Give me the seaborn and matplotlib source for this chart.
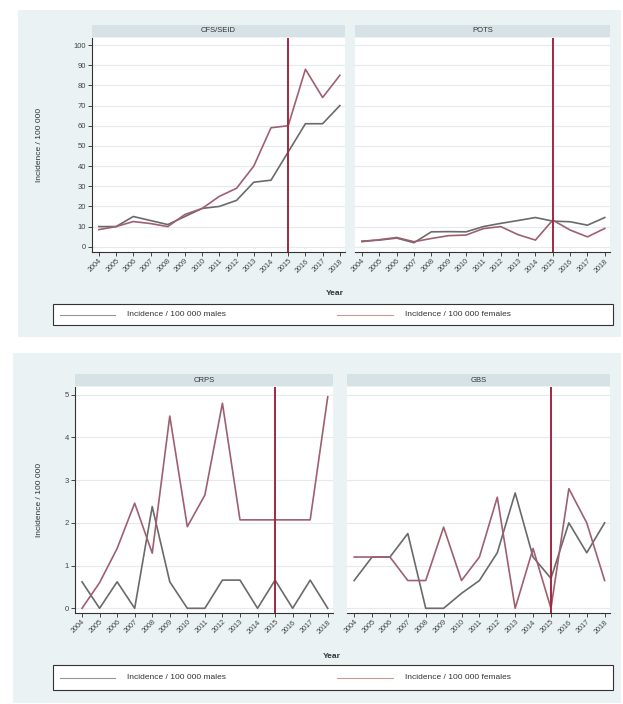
import numpy as np
import pandas as pd
import seaborn as sns
import matplotlib.pyplot as plt
from matplotlib.patches import Rectangle
from matplotlib.lines import Line2D

# data
years = list(range(2004, 2019))
cutoff_year = 2015

cfs_males = [10, 10, 15, 13, 11, 15, 19, 20, 23, 32, 33, 47, 61, 61, 70]
cfs_females = [8.5, 10, 12.5, 11.5, 10, 16, 19, 25, 29, 40, 59, 60, 88, 74, 85]
pots_males = [2.8, 3.3, 4.3, 2.0, 7.4, 7.5, 7.4, 10, 11.6, 13, 14.5, 12.7, 12.4, 10.7, 14.5]
pots_females = [2.5, 3.5, 4.6, 2.5, 4.1, 5.5, 5.8, 9, 10, 6, 3.3, 13.2, 8.3, 4.9, 9.1]
crps_males = [0.62, 0.0, 0.62, 0.0, 2.38, 0.62, 0.0, 0.0, 0.66, 0.66, 0.0, 0.66, 0.0, 0.66, 0.0]
crps_females = [0.0, 0.6, 1.4, 2.46, 1.29, 4.5, 1.91, 2.65, 4.8, 2.07, 2.07, 2.07, 2.07, 2.07, 4.95]
gbs_males = [0.65, 1.2, 1.2, 1.75, 0.0, 0.0, 0.35, 0.65, 1.3, 2.7, 1.2, 0.7, 2.0, 1.3, 2.0]
gbs_females = [1.2, 1.2, 1.2, 0.65, 0.65, 1.9, 0.65, 1.2, 2.6, 0.0, 1.4, 0.0, 2.8, 2.0, 0.65]

sex_labels = ["Incidence / 100 000 males", "Incidence / 100 000 females"]
palette = {sex_labels[0]: "#6a6a6a", sex_labels[1]: "#9e6070"}

def long_df(males, females):
    return pd.DataFrame({
        "Year": years * 2,
        "inc": males + females,
        "sex": [sex_labels[0]] * len(years) + [sex_labels[1]] * len(years),
    })

W, H = 623, 704
fig = plt.figure(figsize=(W / 100, H / 100), dpi=100)
fig.patch.set_facecolor("white")
plt.rcParams["font.family"] = ["Liberation Sans", "DejaVu Sans"]

BG = "#eaf2f3"
STRIP = "#d6e2e6"
GRID = "#e4ebee"
RED = "#a3283e"


def px_axes(x0, y0, x1, y1):
    return fig.add_axes([x0 / W, 1 - y1 / H, (x1 - x0) / W, (y1 - y0) / H])


def bg_box(x0, y0, x1, y1, fc, ec="none", lw=0, z=-5):
    fig.patches.append(Rectangle((x0 / W, 1 - y1 / H), (x1 - x0) / W, (y1 - y0) / H,
                                 transform=fig.transFigure, facecolor=fc,
                                 edgecolor=ec, linewidth=lw, zorder=z))


def panel(box, title, males, females, ylim, yticks, show_y):
    x0, y0, x1, y1 = box
    bg_box(x0, y0 - 13, x1, y0 - 1, STRIP, z=-4)
    fig.text((x0 + x1) / 2 / W, 1 - (y0 - 7) / H, title, ha="center", va="center",
             fontsize=5.5, color="#333333")
    ax = px_axes(x0, y0, x1, y1)
    ax.set_facecolor("white")
    sns.lineplot(data=long_df(males, females), x="Year", y="inc", hue="sex",
                 palette=palette, linewidth=1.2, legend=False, ax=ax)
    ax.axvline(cutoff_year, color=RED, lw=1.4, zorder=3)
    ax.set_xlim(2003.6, 2018.3)
    ax.set_ylim(*ylim)
    ax.set_yticks(yticks)
    ax.yaxis.grid(True, color=GRID, lw=0.8)
    ax.set_axisbelow(True)
    ax.set_xticks(years)
    ax.set_xticklabels([str(y) for y in years], rotation=45, ha="right",
                       rotation_mode="anchor", fontsize=5.2, color="#444444")
    ax.tick_params(axis="x", length=3, width=0.7, pad=1, colors="#444444")
    ax.set_xlabel("")
    ax.set_ylabel("")
    for s in ["top", "right"]:
        ax.spines[s].set_visible(False)
    ax.spines["bottom"].set_color("#333333")
    ax.spines["bottom"].set_linewidth(0.8)
    if show_y:
        ax.spines["left"].set_color("#333333")
        ax.spines["left"].set_linewidth(0.8)
        ax.set_yticklabels([str(t) for t in yticks], fontsize=5.5, color="#444444")
        ax.tick_params(axis="y", length=3, width=0.7, pad=1.5, colors="#444444")
    else:
        ax.spines["left"].set_visible(False)
        ax.tick_params(axis="y", length=0, labelleft=False)
    return ax


def legend_box(y0, y1):
    bg_box(53, y0, 613, y1, "white", ec="#333333", lw=0.8, z=-3)
    yc = 1 - (y0 + y1) / 2 / H
    fig.lines.append(Line2D([60 / W, 115 / W], [yc, yc], transform=fig.transFigure,
                            color=palette[sex_labels[0]], lw=0.8, alpha=0.7))
    fig.text(127 / W, yc, sex_labels[0], ha="left", va="center", fontsize=6, color="#333333")
    fig.lines.append(Line2D([337 / W, 393 / W], [yc, yc], transform=fig.transFigure,
                            color="#c99a98", lw=0.8))
    fig.text(405 / W, yc, sex_labels[1], ha="left", va="center", fontsize=6, color="#333333")


# top graph
bg_box(18, 10, 621, 337, BG)
top_ylim = (-2.6, 103.5)
top_ticks = list(range(0, 101, 10))
panel((92, 38, 345, 252), "CFS/SEID", cfs_males, cfs_females, top_ylim, top_ticks, True)
panel((355, 38, 610, 252), "POTS", pots_males, pots_females, top_ylim, top_ticks, False)
fig.text(40 / W, 1 - 145 / H, "Incidence / 100 000", rotation=90, ha="center", va="center",
         fontsize=6, color="#333333")
fig.text(335 / W, 1 - 293 / H, "Year", ha="center", va="center", fontsize=6,
         fontweight="bold", color="#333333")
legend_box(304, 325)

# bottom graph
bg_box(13, 353, 621, 703, BG)
bot_ylim = (-0.11, 5.18)
bot_ticks = [0, 1, 2, 3, 4, 5]
panel((75, 387, 333, 613), "CRPS", crps_males, crps_females, bot_ylim, bot_ticks, True)
panel((347, 387, 610, 613), "GBS", gbs_males, gbs_females, bot_ylim, bot_ticks, False)
fig.text(40 / W, 1 - 500 / H, "Incidence / 100 000", rotation=90, ha="center", va="center",
         fontsize=6, color="#333333")
fig.text(332 / W, 1 - 657 / H, "Year", ha="center", va="center", fontsize=6,
         fontweight="bold", color="#333333")
legend_box(665, 690)

fig.savefig("out.png", dpi=100)
